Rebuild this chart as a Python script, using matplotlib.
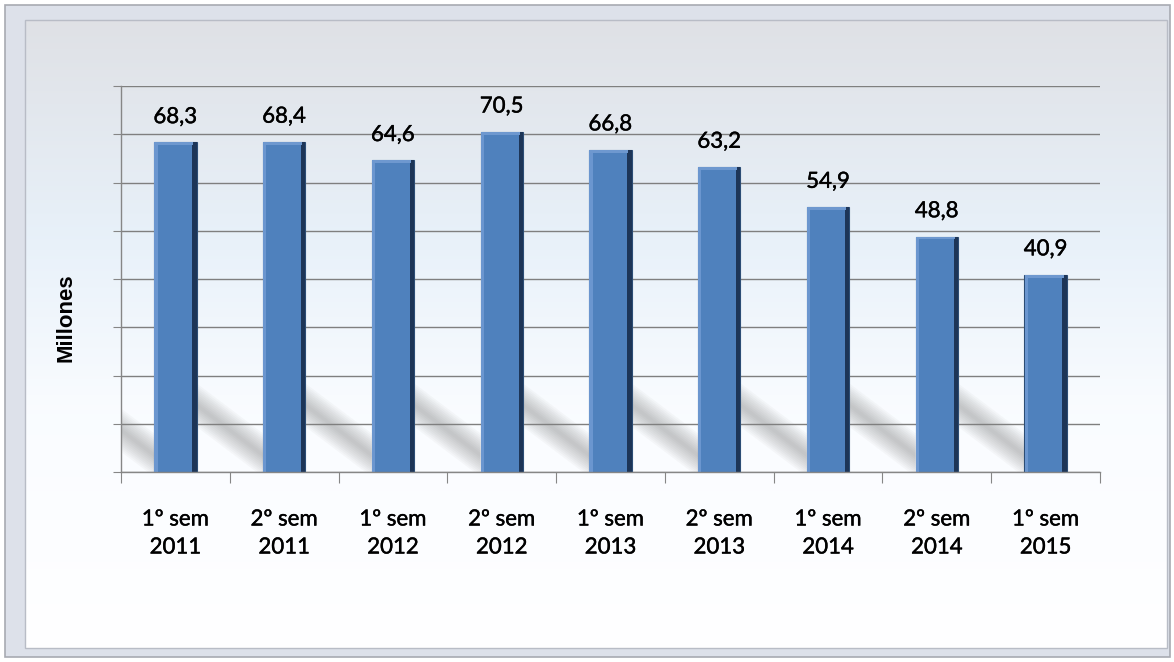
import numpy as np
import matplotlib
matplotlib.use('Agg')
import matplotlib.pyplot as plt
import matplotlib.patheffects as pe
from matplotlib.patches import Rectangle, Polygon

# Data
categories = ['1º sem\n2011', '2º sem\n2011', '1º sem\n2012', '2º sem\n2012', '1º sem\n2013',
              '2º sem\n2013', '1º sem\n2014', '2º sem\n2014', '1º sem\n2015']
values = [68.3, 68.4, 64.6, 70.5, 66.8, 63.2, 54.9, 48.8, 40.9]
value_labels = ['68,3', '68,4', '64,6', '70,5', '66,8', '63,2', '54,9', '48,8', '40,9']
y_ticks = [0, 10, 20, 30, 40, 50, 60, 70, 80]

W, H = 1174, 662
fig = plt.figure(figsize=(W / 100, H / 100), dpi=100)
fig.patch.set_facecolor('white')

# Background frame + gradient (pixel coordinates)
bg = fig.add_axes([0, 0, 1, 1], zorder=0)
bg.set_xlim(0, W)
bg.set_ylim(H, 0)
bg.axis('off')
bg.add_patch(Rectangle((5, 5), 1165, 652, facecolor='#dde1ea', edgecolor='#a8aab2', lw=1.2))
stops = np.array([0.0, 0.35, 0.62, 1.0])
cols = np.array([[0.875, 0.882, 0.9], [0.91, 0.945, 0.978], [0.978, 0.988, 1.0], [1.0, 1.0, 1.0]])
t = np.linspace(0, 1, 300)
grad = np.stack([np.interp(t, stops, cols[:, k]) for k in range(3)], axis=1)[:, None, :]
bg.imshow(grad, extent=(25, 1167, 648, 20), aspect='auto', zorder=1)
bg.add_patch(Rectangle((25, 20), 1142, 628, facecolor='none', edgecolor='#b8bcc6', lw=1.0, zorder=2))

# Chart axes
ax = fig.add_axes([121 / W, 1 - 472 / H, (1100 - 121) / W, (472 - 86) / H], zorder=1)
ax.patch.set_alpha(0)
x = np.arange(len(values))
bw = 0.39

ax.set_xlim(-0.5, len(values) - 0.5)
ax.set_ylim(0, 80)

# Diagonal soft shadows behind bars
for xi in x:
    left = xi - bw / 2
    xs = np.array([left, left - 0.72])
    yc = 3.5 + 17 * (left - xs)
    for k in range(1, 11):
        half = 0.45 * k
        poly = [(xs[0], yc[0] - half), (xs[1], yc[1] - half), (xs[1], yc[1] + half), (xs[0], yc[0] + half)]
        ax.add_patch(Polygon(poly, closed=True, facecolor='#707070', edgecolor='none', alpha=0.042, zorder=0.2))

# Bars with bevel look
ax.bar(x, values, width=bw, color='#4f81bd', edgecolor='#2c4d75', linewidth=0.8, zorder=2)
ax.bar(x - bw / 2 + 0.016, values, width=0.03, color='#6b96cf', linewidth=0, zorder=2.1)
ax.bar(x + bw / 2 - 0.02, values, width=0.04, color='#1d3557', linewidth=0, zorder=2.1)
ax.bar(x - 0.01, [0.6] * len(values), bottom=np.array(values) - 0.6, width=bw - 0.04,
       color='#6e98cf', linewidth=0, zorder=2.2)

stroke = [pe.withStroke(linewidth=0.3, foreground='black')]
for xi, v, lab in zip(x, values, value_labels):
    ax.annotate(lab, (xi, v), xytext=(0, 11), textcoords='offset points', ha='center', va='bottom',
                fontsize=16, family='Lato', color='black', zorder=3, path_effects=stroke)

# Axes styling
ax.set_axisbelow(True)
ax.yaxis.grid(True, color='#7f7f7f', linewidth=1.0)
ax.set_yticks(y_ticks)
ax.set_yticklabels([])
ax.tick_params(axis='y', length=6, color='#868686', direction='out')
ax.set_xticks(np.arange(len(values) + 1) - 0.5)
ax.set_xticklabels([])
ax.set_xticks(x, minor=True)
ax.set_xticklabels(categories, minor=True, fontsize=16, family='Lato', color='black', linespacing=1.5)
for lbl in ax.get_xticklabels(minor=True):
    lbl.set_path_effects(stroke)
ax.tick_params(axis='x', which='major', length=8, color='#868686', direction='out')
ax.tick_params(axis='x', which='minor', length=0, pad=27)
for s in ['top', 'right']:
    ax.spines[s].set_visible(False)
for s in ['left', 'bottom']:
    ax.spines[s].set_color('#868686')
    ax.spines[s].set_linewidth(1.0)

ax.set_ylabel('Millones', fontsize=16, fontweight='bold', family='Liberation Sans')
ax.yaxis.set_label_coords(-0.045, 0.40)

fig.savefig('out.png', dpi=100)
